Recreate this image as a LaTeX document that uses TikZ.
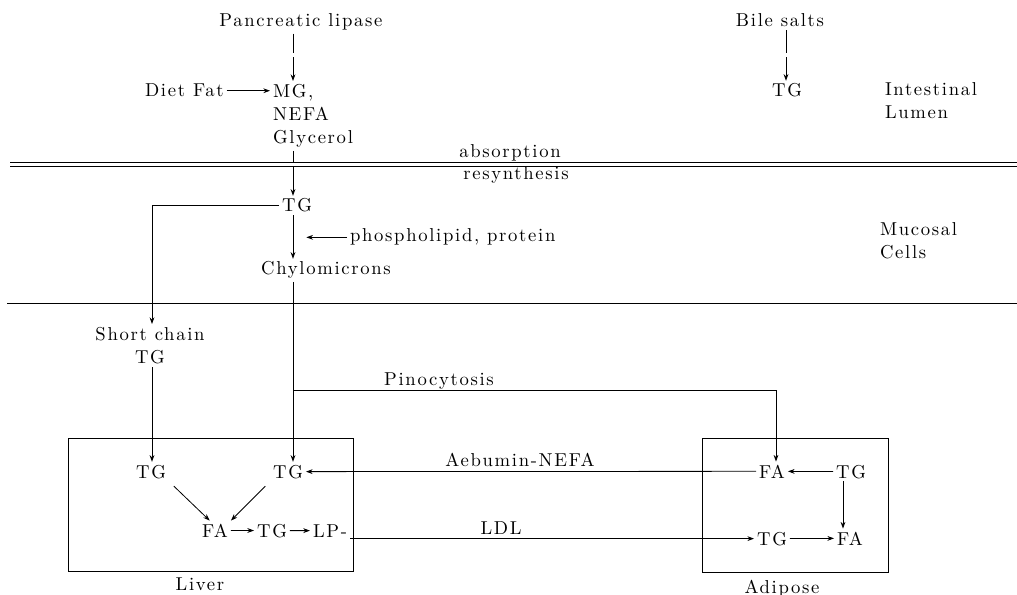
\documentclass[tikz,border=0pt]{standalone}
\usepackage{fontspec}
\setmainfont{lmroman10-regular.otf}[LetterSpace=9]
\usetikzlibrary{arrows.meta, positioning, fit}

\begin{document}
\begin{tikzpicture}[
  x=0.75pt, y=-0.75pt,
  line width=0.6pt,
  font=\fontsize{14}{17.5}\selectfont,
  lbl/.style={inner sep=2pt, anchor=base},
  multi/.style={inner sep=2pt, align=#1},
  organ/.style={draw, inner sep=0pt},
  rail/.style={double, double distance=2.4pt},
  >={Stealth[length=5pt, width=3.6pt]}
]
  \useasboundingbox (0,0) rectangle (1017,595);
  % columns of the vertical connectors
  \coordinate (colA) at (293,0);
  \coordinate (colB) at (152,0);
  \coordinate (colC) at (776,0);
  \coordinate (colD) at (786,0);

  % intestinal lumen
  \node[lbl] (PL) at (301,27) {Pancreatic lipase};
  \node[lbl] (BS) at (780,27) {Bile salts};
  \node[lbl, anchor=base west] (DF) at (142,97) {Diet Fat};
  \node[multi=left, anchor=north west] (MG) at (270,81) {MG,\\NEFA\\Glycerol};
  \node[lbl] (TGl) at (787,97) {TG};
  \node[multi=left, anchor=north west] (IL) at (882,79) {Intestinal\\Lumen};
  \node[lbl] (AB) at (510,158) {absorption};
  \node[lbl] (RS) at (516,180) {resynthesis};

  % mucosal cells
  \node[lbl] (TGm) at (297,212) {TG};
  \node[lbl, anchor=base west] (PH) at (347,242) {phospholipid, protein};
  \node[lbl] (CM) at (326,275) {Chylomicrons};
  \node[multi=left, anchor=north west] (MC) at (877,219) {Mucosal\\Cells};

  % transport
  \node[multi=center, anchor=north] (SC) at (150,324) {Short chain\\TG};
  \node[lbl] (PI) at (439,385) {Pinocytosis};
  \node[lbl] (AN) at (520,466) {Aebumin-NEFA};
  \node[lbl] (LD) at (501,534) {LDL};
  \coordinate (PC) at (293,390);

  % liver
  \node[lbl] (LTa) at (151,478) {TG};
  \node[lbl] (LTb) at (288,478) {TG};
  \node[lbl] (LFA) at (215,537) {FA};
  \node[lbl] (LTG) at (272,537) {TG};
  \node[lbl] (LP) at (330,537) {LP-};
  \node[organ, fit={(68,438) (353,571)}] (LV) {};
  \node[lbl] (LVl) at (200,590) {Liver};

  % adipose
  \node[lbl] (AFa) at (772,478) {FA};
  \node[lbl] (ATa) at (851,478) {TG};
  \node[lbl] (ATb) at (772,545) {TG};
  \node[lbl] (AFb) at (850,545) {FA};
  \node[organ, fit={(702,438) (888,572)}] (AD) {};
  \node[lbl] (ADl) at (782,593) {Adipose};

  \draw[->] (PL.south -| colA) -- (MG.north -| colA);
  \draw[->] (BS.south -| colD) -- (TGl.north -| colD);
  \draw[->] (DF.east) -- (DF.east -| MG.west);
  \draw[->] (MG.south -| colA) -- (TGm.north -| colA);
  \draw[->] (TGm.south -| colA) -- (CM.north -| colA);
  \draw[->, shorten >=10pt] (PH.west) -- (PH.west -| colA);
  \draw[->] (TGm.west) -| (SC.north -| colB);
  \draw[->] (SC.south -| colB) -- (LTa.north -| colB);
  \draw[->] (CM.south -| colA) -- (LTb.north -| colA);
  \draw[->] (PC) -| (AFa.north -| colC);

  \draw[->, shorten <=5pt] (LTa.south east) -- ([xshift=-4pt]LFA.north);
  \draw[->, shorten <=5pt] (LTb.south west) -- (LFA.north east);
  \draw[->] (LFA) -- (LTG);
  \draw[->] (LTG) -- (LP);
  \draw[->] (AFa.west) -- (LTb.east);
  \draw[->] (LP.east |- ATb.west) -- (ATb.west);
  \draw[->] (ATa) -- (AFa);
  \draw[->] ([xshift=-6pt]ATa.south) -- ([xshift=-6pt]ATa.south |- AFb.north);
  \draw[->] (ATb) -- (AFb);

  % membranes
  \draw[rail] (10,55) -- (1017,55);
  \draw[rail] (10,164.5) -- (1017,164.5);
  \draw (7,303) -- (1017,303);
\end{tikzpicture}
\end{document}
